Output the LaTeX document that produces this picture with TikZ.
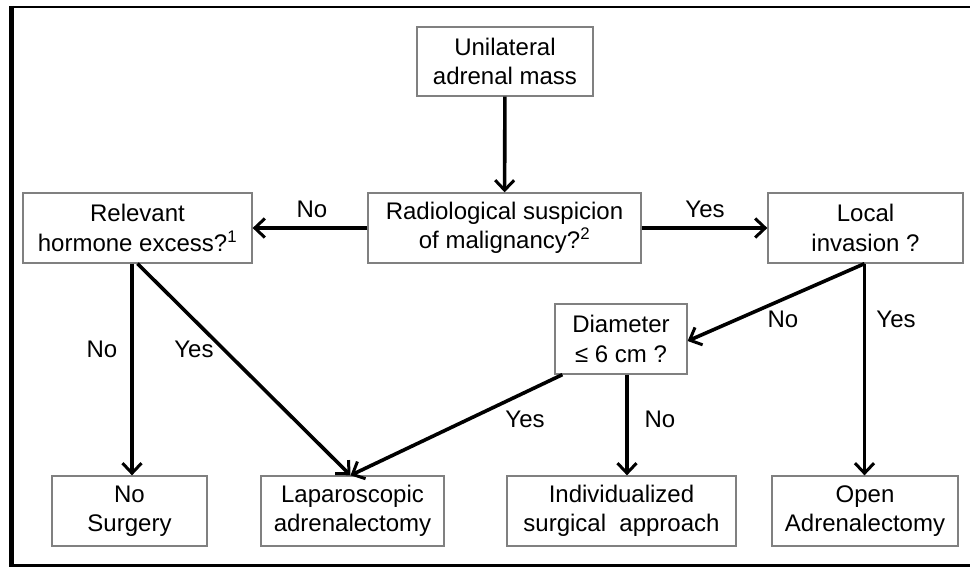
\documentclass[tikz,border=0pt]{standalone}
\usepackage{fontspec}
\setmainfont{Liberation Sans}
\usetikzlibrary{arrows.meta}
\begin{document}
\begin{tikzpicture}[x=1pt,y=-1pt,
  box/.style={draw=black!50, line width=1.3pt, fill=white, align=center, inner sep=0pt,
    font=\fontsize{24}{29.5}\selectfont, text=black},
  arr/.style={line width=3.6pt, -{Straight Barb[length=10pt,width=19pt,line width=3pt]}},
  lab/.style={anchor=base, font=\fontsize{24}{28}\selectfont, inner sep=0pt}]
\useasboundingbox (0,0) rectangle (970,567);
\fill[white] (0,0) rectangle (970,567);
% frame
\draw[line width=5pt] (11.5,5.8) -- (11.5,567);
\draw[line width=2.5pt] (9,7) -- (970,7);
\draw[line width=3.5pt] (9,565.5) -- (970,565.5);
% boxes
\node[box, minimum width=176, minimum height=69] (u) at (505,61.5) {Unilateral\\adrenal mass};
\node[box, minimum width=229, minimum height=70] (h) at (137.5,228) {Relevant\\hormone excess?\textsuperscript{1}};
\node[box, minimum width=273, minimum height=70] (r) at (504.5,228) {Radiological suspicion\\of malignancy?\textsuperscript{2}};
\node[box, minimum width=195, minimum height=70] (l) at (865.5,228) {Local\\invasion ?};
\node[box, minimum width=132, minimum height=70] (d) at (621,339) {Diameter\\≤ 6 cm ?};
\node[box, minimum width=155, minimum height=70] (ns) at (129.5,511) {No\\Surgery};
\node[box, minimum width=183, minimum height=70] (lap) at (352.5,511) {Laparoscopic\\adrenalectomy};
\node[box, minimum width=229, minimum height=70] (ind) at (621.5,511) {Individualized\\surgical\ \ approach};
\node[box, minimum width=186, minimum height=70] (o) at (865,511) {Open\\Adrenalectomy};
% helper coordinates
\coordinate (hs1) at ([xshift=-5.5]h.south);
\coordinate (ls) at ([xshift=-1]l.south);
\coordinate (dsw) at ([xshift=8]d.south west);
\coordinate (ds) at ([xshift=6]d.south);
% connectors
\draw[arr] (u) -- (r);
\draw[arr] (r) -- (h);
\draw[arr] (r) -- (l);
\draw[arr] (ls) -- (ls |- o.north);
\draw[arr] (ls) -- ([yshift=-2]d.east);
\draw[arr] (hs1) -- (hs1 |- ns.north);
\draw[arr] (h.south) -- ([xshift=-2]lap.north);
\draw[arr] (dsw) -- ([xshift=-2]lap.north);
\draw[arr] (ds) -- (ds |- ind.north);
% labels
\node[lab] (n1) at (312,218) {No};
\node[lab] (y1) at (705,218) {Yes};
\node[lab] (n2) at (783,327) {No};
\node[lab] (y2) at (896,327) {Yes};
\node[lab] (n3) at (102,357) {No};
\node[lab] (y3) at (194,357) {Yes};
\node[lab] (y4) at (525,427) {Yes};
\node[lab] (n4) at (660,427) {No};
\end{tikzpicture}
\end{document}
